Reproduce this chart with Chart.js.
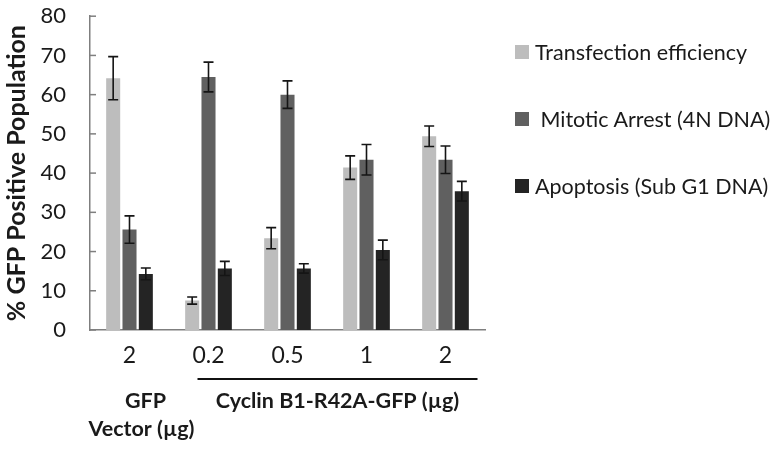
<!DOCTYPE html>
<html>
<head>
<meta charset="utf-8">
<script src="https://cdn.jsdelivr.net/npm/chart.js@4.4.0/dist/chart.umd.min.js"></script>
<style>
  body { margin: 0; background: #fff; }
  #wrap { position: relative; width: 771px; height: 451px; }
  #legend { position: absolute; left: 515px; top: 38px; font-family: Lato, sans-serif; font-size: 21.5px; color: #1a1a1a; }
  .item { display: flex; align-items: center; height: 28px; margin-bottom: 39px; white-space: pre; }
  .box { width: 14px; height: 14px; margin-right: 6px; }
</style>
</head>
<body>
<div id="wrap">
  <canvas id="gfpChart" width="771" height="451"></canvas>
  <div id="legend"></div>
</div>
<script>
const categories = ['2', '0.2', '0.5', '1', '2'];
const seriesNames = ['Transfection efficiency', ' Mitotic Arrest (4N DNA)', 'Apoptosis (Sub G1 DNA)'];
const transfection = [64.2, 7.5, 23.4, 41.4, 49.4];
const transfectionErr = [5.5, 0.9, 2.7, 3.0, 2.6];
const mitotic = [25.6, 64.5, 60.0, 43.4, 43.4];
const mitoticErr = [3.5, 3.8, 3.5, 3.9, 3.5];
const apoptosis = [14.3, 15.7, 15.7, 20.4, 35.4];
const apoptosisErr = [1.5, 1.8, 1.2, 2.5, 2.5];
const yTicks = [0, 10, 20, 30, 40, 50, 60, 70, 80];
const colors = ['#bdbdbd', '#606060', '#242424'];

const FONT = 'Lato, sans-serif';

// error bars on top of each bar
const errorBars = {
  id: 'errorBars',
  afterDatasetsDraw(chart) {
    const ctx = chart.ctx;
    const y = chart.scales.y;
    ctx.save();
    ctx.strokeStyle = '#151515';
    ctx.lineWidth = 1.6;
    chart.data.datasets.forEach((ds, i) => {
      chart.getDatasetMeta(i).data.forEach((bar, j) => {
        const v = ds.data[j], e = ds.errors[j];
        const top = y.getPixelForValue(v + e);
        const bot = y.getPixelForValue(v - e);
        ctx.beginPath();
        ctx.moveTo(bar.x, top); ctx.lineTo(bar.x, bot);
        ctx.moveTo(bar.x - 5, top); ctx.lineTo(bar.x + 5, top);
        ctx.moveTo(bar.x - 5, bot); ctx.lineTo(bar.x + 5, bot);
        ctx.stroke();
      });
    });
    ctx.restore();
  }
};

// inward tick marks on the y axis + group labels under the x axis
const extras = {
  id: 'extras',
  afterDraw(chart) {
    const ctx = chart.ctx;
    const y = chart.scales.y, x = chart.scales.x;
    const left = chart.chartArea.left;
    ctx.save();
    ctx.strokeStyle = '#7f7f7f';
    ctx.lineWidth = 1.5;
    y.ticks.forEach(t => {
      const py = y.getPixelForValue(t.value);
      ctx.beginPath();
      ctx.moveTo(left, py); ctx.lineTo(left + 6, py);
      ctx.stroke();
    });

    const lineL = x.getPixelForValue(1) - 11;
    const lineR = x.getPixelForValue(4) + 32;
    ctx.strokeStyle = '#111';
    ctx.lineWidth = 2;
    ctx.beginPath();
    ctx.moveTo(lineL, 379); ctx.lineTo(lineR, 379);
    ctx.stroke();

    ctx.fillStyle = '#1a1a1a';
    ctx.font = 'bold 21.5px ' + FONT;
    ctx.textAlign = 'center';
    ctx.textBaseline = 'middle';
    const g0 = x.getPixelForValue(0);
    ctx.fillText('GFP', g0 + 16, 401);
    ctx.fillText('Vector (µg)', g0 + 12, 429);
    ctx.fillText('Cyclin B1-R42A-GFP (µg)', (lineL + lineR) / 2, 401);
    ctx.restore();
  }
};

const ctx = document.getElementById('gfpChart').getContext('2d');
const chart = new Chart(ctx, {
  type: 'bar',
  data: {
    labels: categories,
    datasets: [
      { label: seriesNames[0], data: transfection, errors: transfectionErr, backgroundColor: colors[0] },
      { label: seriesNames[1], data: mitotic, errors: mitoticErr, backgroundColor: colors[1] },
      { label: seriesNames[2], data: apoptosis, errors: apoptosisErr, backgroundColor: colors[2] }
    ]
  },
  options: {
    responsive: false,
    animation: false,
    categoryPercentage: 0.62,
    barPercentage: 0.86,
    layout: { padding: { left: 0, right: 286, top: 0, bottom: 0 } },
    plugins: {
      legend: { display: false },
      tooltip: { enabled: false }
    },
    scales: {
      x: {
        grid: { display: false, drawTicks: false },
        border: { color: '#7f7f7f', width: 1.5 },
        ticks: { color: '#1a1a1a', font: { family: FONT, size: 23 }, padding: 12 },
        afterFit(scale) { scale.height = 121; }
      },
      y: {
        min: 0,
        max: 80,
        afterBuildTicks(scale) { scale.ticks = yTicks.map(v => ({ value: v })); },
        // hidden tick marks only keep the labels away from the axis
        grid: { display: false, drawTicks: true, tickLength: 21 },
        border: { color: '#7f7f7f', width: 1.5 },
        ticks: { color: '#1a1a1a', font: { family: FONT, size: 22 }, padding: 3 },
        title: { display: true, text: '% GFP Positive Population', color: '#1a1a1a', font: { family: FONT, size: 25, weight: 'bold' }, padding: { top: 2, bottom: 0 } },
        afterFit(scale) { scale.width = 90; }
      }
    }
  },
  plugins: [errorBars, extras]
});

// legend built from the datasets
const legend = document.getElementById('legend');
chart.data.datasets.forEach(ds => {
  const item = document.createElement('div');
  item.className = 'item';
  item.innerHTML = '<span class="box" style="background:' + ds.backgroundColor + '"></span>' + ds.label;
  legend.appendChild(item);
});
</script>
</body>
</html>
